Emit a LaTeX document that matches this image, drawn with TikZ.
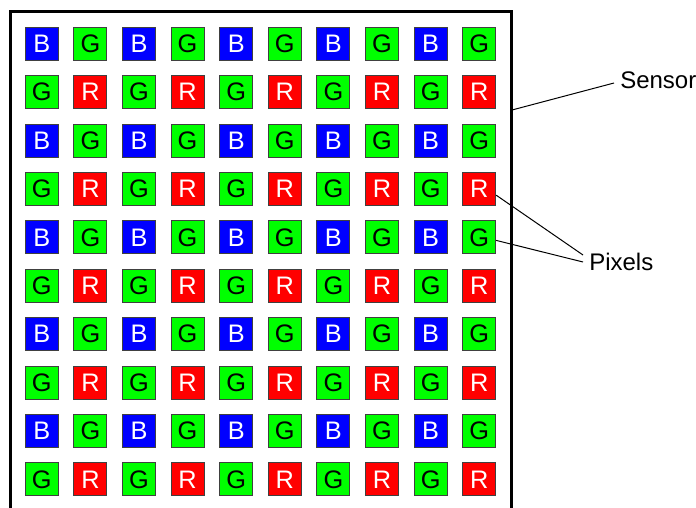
\documentclass[tikz,border=0pt]{standalone}
\usepackage{fontspec}
\setmainfont{Liberation Sans}
\usetikzlibrary{positioning,calc}

\begin{document}
\begin{tikzpicture}[
  x=0.75pt,y=-0.75pt,
  font=\fontsize{18}{21}\selectfont,
  pix/.style={rectangle,draw=black!75,line width=0.75pt,minimum size=24.75pt,inner sep=0pt,
              font=\fontsize{19}{22}\selectfont},
  bpix/.style={pix,fill=blue,text=white},
  gpix/.style={pix,fill=green,text=black},
  rpix/.style={pix,fill=red,text=white},
  frame/.style={line width=2.25pt,black},
  lead/.style={line width=0.75pt,black},
  lbl/.style={anchor=west,inner sep=3pt},
]
\useasboundingbox (0,0) rectangle (696,507);
% ---------- sensor outline (open at the bottom) ----------
\draw[frame] (10,508) -- (10,11) -- (511,11) -- (511,508);
\coordinate (sedge) at (512,110);

% ---------- Bayer pixels ----------
\foreach \r in {1,...,10}{
  \foreach \c in {1,...,10}{
    \pgfmathtruncatemacro{\ro}{mod(\r,2)}
    \pgfmathtruncatemacro{\co}{mod(\c,2)}
    \ifnum\ro=1
      \ifnum\co=1 \def\kind{bpix}\def\lt{B}\else\def\kind{gpix}\def\lt{G}\fi
    \else
      \ifnum\co=1 \def\kind{gpix}\def\lt{G}\else\def\kind{rpix}\def\lt{R}\fi
    \fi
    \node[\kind] (p-\r-\c) at ({41.8+(\c-1)*48.6},{43.8+(\r-1)*48.4}) {\lt};
  }
}

% ---------- labels ----------
\node[lbl] (sens) at (616,80) {Sensor};
\node[lbl] (pixl) at (585,262) {Pixels};
\draw[lead] (sedge) -- ($(sens.west)+(-2,3)$);
\draw[lead] (p-4-10.-20) -- ($(pixl.west)+(-2,-7)$);
\draw[lead] (p-5-10.-10) -- ($(pixl.west)+(-2,0)$);
\end{tikzpicture}
\end{document}
